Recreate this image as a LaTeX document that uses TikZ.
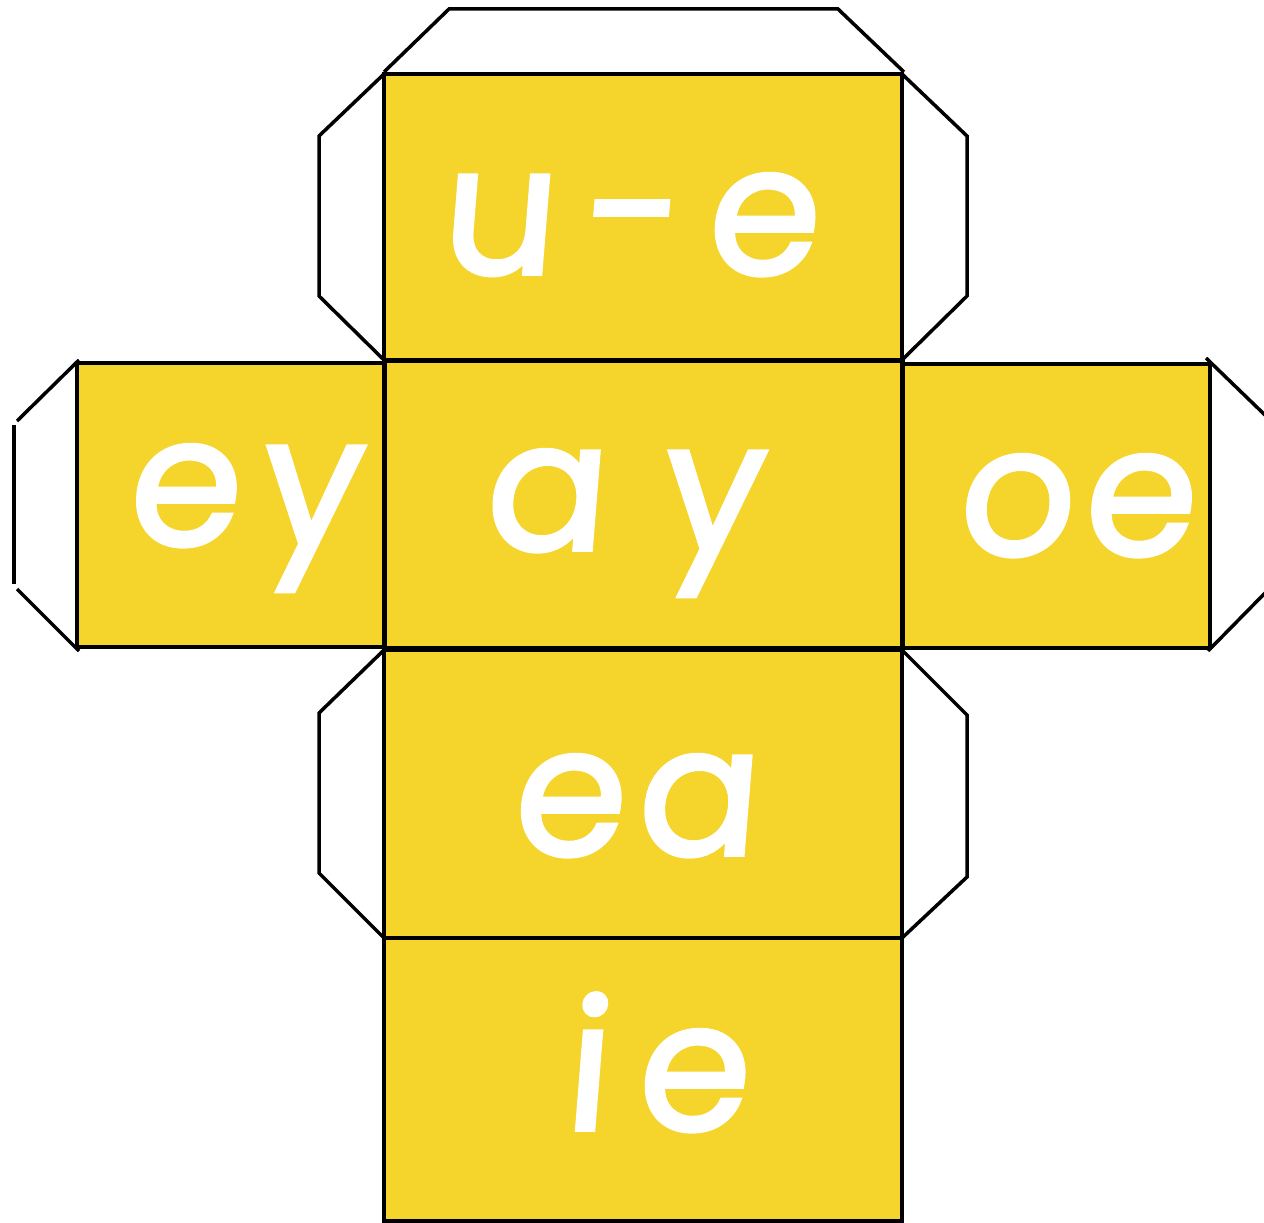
\documentclass[tikz,border=0pt]{standalone}
\usepackage{fontspec}
\newfontfamily\cubefont[FakeSlant=0.08,FakeBold=2.2]{Poppins}
\definecolor{faceyellow}{HTML}{F5D42B}
\tikzset{
  face/.style={fill=faceyellow, draw=black, line width=4pt},
  flap/.style={draw=black, line width=3.5pt, line join=miter},
  word/.style={text=white, font=\fontsize{180}{180}\selectfont\cubefont, anchor=base, inner sep=0pt}
}
\begin{document}
\begin{tikzpicture}[x=1pt,y=-1pt]
\useasboundingbox (0,0) rectangle (1264,1223);
\clip (0,0) rectangle (1264,1223);
% faces
\fill[faceyellow] (384,74) rectangle (902,360);
\fill[faceyellow] (77,363) rectangle (384,647);
\fill[faceyellow] (384,360) rectangle (902,648);
\fill[faceyellow] (902,364) rectangle (1210,648);
\fill[faceyellow] (384,650) rectangle (902,938);
\fill[faceyellow] (384,938) rectangle (902,1221);
% flaps
\draw[flap] (384,72) -- (449,9) -- (838,9) -- (904,72);
\draw[flap] (384,74) -- (319,136) -- (319,296) -- (384,360);
\draw[flap] (902,74) -- (967,136) -- (967,296) -- (902,360);
\draw[flap] (79,360) -- (17,421);
\draw[flap] (14,425) -- (14,584);
\draw[flap] (17,589) -- (79,651);
\draw[flap] (1206,358) -- (1266,416);
\draw[flap] (1208,651) -- (1266,592);
\draw[flap] (384,650) -- (319,713) -- (319,873) -- (384,938);
\draw[flap] (902,650) -- (967,715) -- (967,877) -- (902,938);
% outlines
\draw[black, line width=4pt] (384,74) rectangle (902,360);
\draw[black, line width=4pt] (77,363) rectangle (384,647);
\draw[black, line width=4pt] (902,364) rectangle (1210,648);
\draw[black, line width=4pt] (384,650) rectangle (902,938);
\draw[black, line width=4pt] (384,938) rectangle (902,1221);
\draw[black, line width=5pt] (384,360) rectangle (902,648);
% texts
\node[word] (ue) at (628,274) {u\kern26pt-\kern26pt e};
\node[word] (ey) at (243,545) {e\kern20pt y};
\node[word] (ay) at (622,550) {a\kern55pt y};
\node[word] (oe) at (1075,555) {o\kern10pt e};
\node[word] (ea) at (634,855) {e\kern12pt a};
\node[word] (ie) at (655,1130) {i\kern28pt e};
\end{tikzpicture}
\end{document}
